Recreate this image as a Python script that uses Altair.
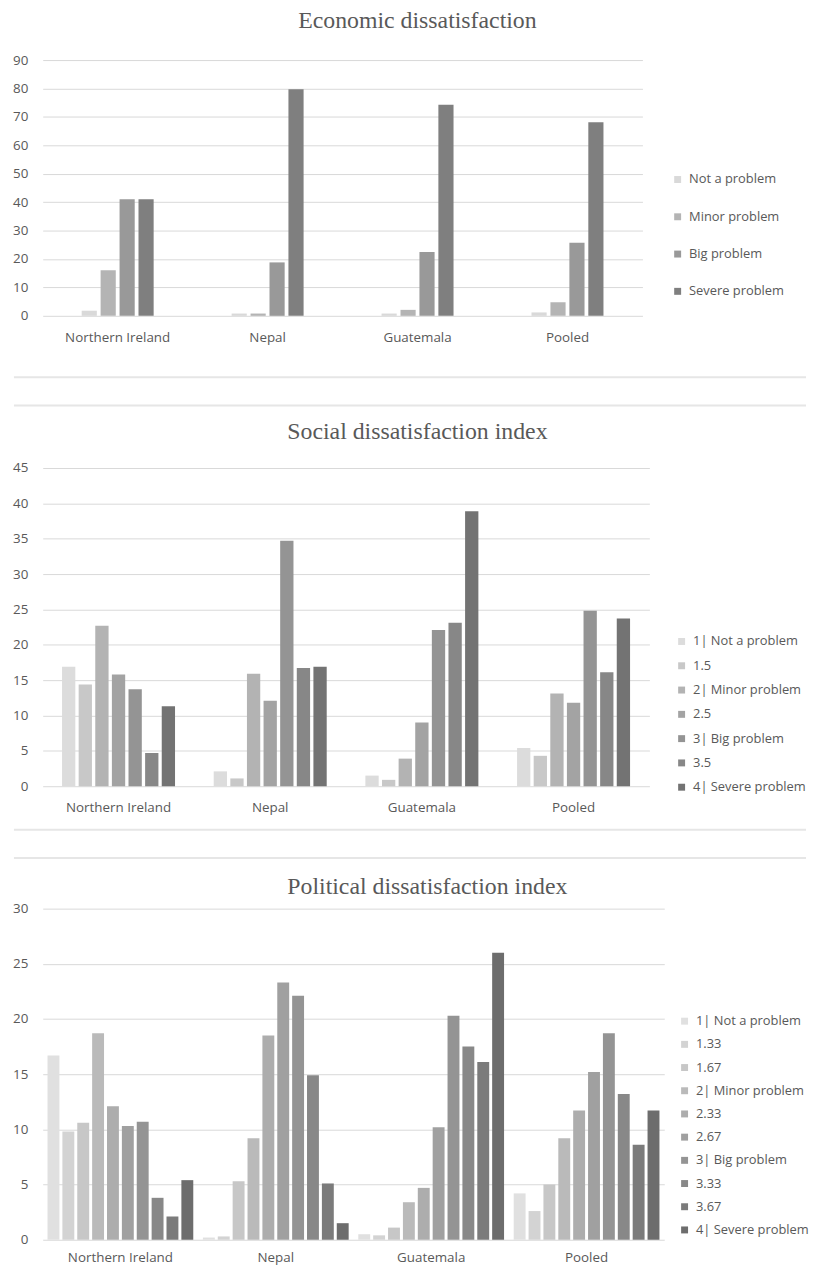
import altair as alt
import pandas as pd

countries = ["Northern Ireland", "Nepal", "Guatemala", "Pooled"]

# Economic dissatisfaction (%)
econ_levels = ["Not a problem", "Minor problem", "Big problem", "Severe problem"]
econ_ni = [1.8, 16.0, 41.0, 41.0]
econ_nepal = [0.8, 0.8, 18.8, 79.7]
econ_guat = [0.8, 2.1, 22.5, 74.3]
econ_pooled = [1.2, 4.8, 25.7, 68.1]
econ_colors = ["#d9d9d9", "#b4b4b4", "#999999", "#7f7f7f"]

# Social dissatisfaction index (%)
soc_levels = ["1| Not a problem", "1.5", "2| Minor problem", "2.5", "3| Big problem", "3.5", "4| Severe problem"]
soc_ni = [16.9, 14.4, 22.7, 15.8, 13.7, 4.7, 11.3]
soc_nepal = [2.1, 1.1, 15.9, 12.1, 34.7, 16.7, 16.9]
soc_guat = [1.5, 0.9, 3.9, 9.0, 22.1, 23.1, 38.9]
soc_pooled = [5.4, 4.3, 13.1, 11.8, 24.8, 16.1, 23.7]
soc_colors = ["#dcdcdc", "#c8c8c8", "#b3b3b3", "#a3a3a3", "#949494", "#878787", "#737373"]

# Political dissatisfaction index (%)
pol_levels = ["1| Not a problem", "1.33", "1.67", "2| Minor problem", "2.33", "2.67",
              "3| Big problem", "3.33", "3.67", "4| Severe problem"]
pol_ni = [16.7, 9.8, 10.6, 18.7, 12.1, 10.3, 10.7, 3.8, 2.1, 5.4]
pol_nepal = [0.2, 0.3, 5.3, 9.2, 18.5, 23.3, 22.1, 14.9, 5.1, 1.5]
pol_guat = [0.5, 0.4, 1.1, 3.4, 4.7, 10.2, 20.3, 17.5, 16.1, 26.0]
pol_pooled = [4.2, 2.6, 5.0, 9.2, 11.7, 15.2, 18.7, 13.2, 8.6, 11.7]
pol_colors = ["#e0e0e0", "#d3d3d3", "#c7c7c7", "#bababa", "#adadad", "#a0a0a0",
              "#949494", "#888888", "#7b7b7b", "#6d6d6d"]

FONT = "Open Sans"
TFONT = "Liberation Serif"
TXT = "#595959"
GRID = "#d9d9d9"
SEP = "#e6e6e6"
AFS = 13.5   # axis label size
LFS = 13     # legend label size


def long_df(levels, rows):
    recs = []
    for c, vals in zip(countries, rows):
        for lvl, v in zip(levels, vals):
            recs.append({"country": c, "level": lvl, "value": v})
    return pd.DataFrame(recs)


one = pd.DataFrame({"k": [0]})


def rule(y, color=SEP, sw=2, x1=-29, x2=770):
    return alt.Chart(one).mark_rule(color=color, strokeWidth=sw).encode(
        x=alt.value(x1), x2=alt.value(x2), y=alt.value(y)
    )


def title_mark(text, x, y):
    return alt.Chart(one).mark_text(
        font=TFONT, fontSize=24, color=TXT, align="center", baseline="middle"
    ).encode(x=alt.value(x), y=alt.value(y), text=alt.value(text))


def panel(df, levels, colors, width, height, ymax, ystep, pad_inner,
          legend_x, legend_y, row_pad, xlab_pad, extra):
    bars = alt.Chart(df).mark_bar().encode(
        x=alt.X("country:N", sort=countries, title=None,
                scale=alt.Scale(paddingInner=pad_inner, paddingOuter=pad_inner / 2),
                axis=alt.Axis(labelAngle=0, domain=False, ticks=False, tickSize=0,
                              labelPadding=xlab_pad, labelFont=FONT, labelFontSize=AFS,
                              labelColor=TXT, grid=False)),
        xOffset=alt.XOffset("level:N", sort=levels,
                            scale=alt.Scale(paddingInner=0.2, paddingOuter=0)),
        y=alt.Y("value:Q", title=None,
                scale=alt.Scale(domain=[0, ymax], nice=False),
                axis=alt.Axis(values=list(range(0, ymax + 1, ystep)), domain=False,
                              ticks=False, tickSize=0, labelPadding=15, labelFont=FONT,
                              labelFontSize=AFS, labelColor=TXT, gridColor=GRID,
                              gridWidth=1)),
        color=alt.Color("level:N", sort=levels,
                        scale=alt.Scale(domain=levels, range=colors),
                        legend=alt.Legend(title=None, orient="none", direction="vertical",
                                          legendX=legend_x, legendY=legend_y,
                                          symbolType="square", symbolSize=49,
                                          symbolStrokeWidth=0, rowPadding=row_pad,
                                          labelFont=FONT, labelFontSize=LFS,
                                          labelColor=TXT, labelLimit=300,
                                          labelOffset=5)),
    )
    return alt.layer(bars, *extra).properties(width=width, height=height)


c1 = panel(long_df(econ_levels, [econ_ni, econ_nepal, econ_guat, econ_pooled]),
           econ_levels, econ_colors,
           605, 258, 90, 10, 0.52, 634, 114, 23.6, 15,
           [title_mark("Economic dissatisfaction", 378, -39), rule(320)])

c2 = panel(long_df(soc_levels, [soc_ni, soc_nepal, soc_guat, soc_pooled]),
           soc_levels, soc_colors,
           612, 321, 45, 5, 0.255, 638, 168.5, 10.5, 15,
           [rule(-63), title_mark("Social dissatisfaction index", 378, -36), rule(365)])

c3 = panel(long_df(pol_levels, [pol_ni, pol_nepal, pol_guat, pol_pooled]),
           pol_levels, pol_colors,
           627, 334, 30, 5, 0.062, 641, 107, 9.4, 11,
           [rule(-51), title_mark("Political dissatisfaction index", 388, -22)])

chart = alt.vconcat(c1, c2, c3, spacing=26.5).resolve_scale(
    x="independent", xOffset="independent", y="independent", color="independent"
).resolve_legend(color="independent").configure(
    padding={"top": -4, "left": 4, "right": 0, "bottom": 0},
    background="white",
).configure_view(stroke=None)

chart.save("out.html", embed_options={"renderer": "svg", "actions": False})
